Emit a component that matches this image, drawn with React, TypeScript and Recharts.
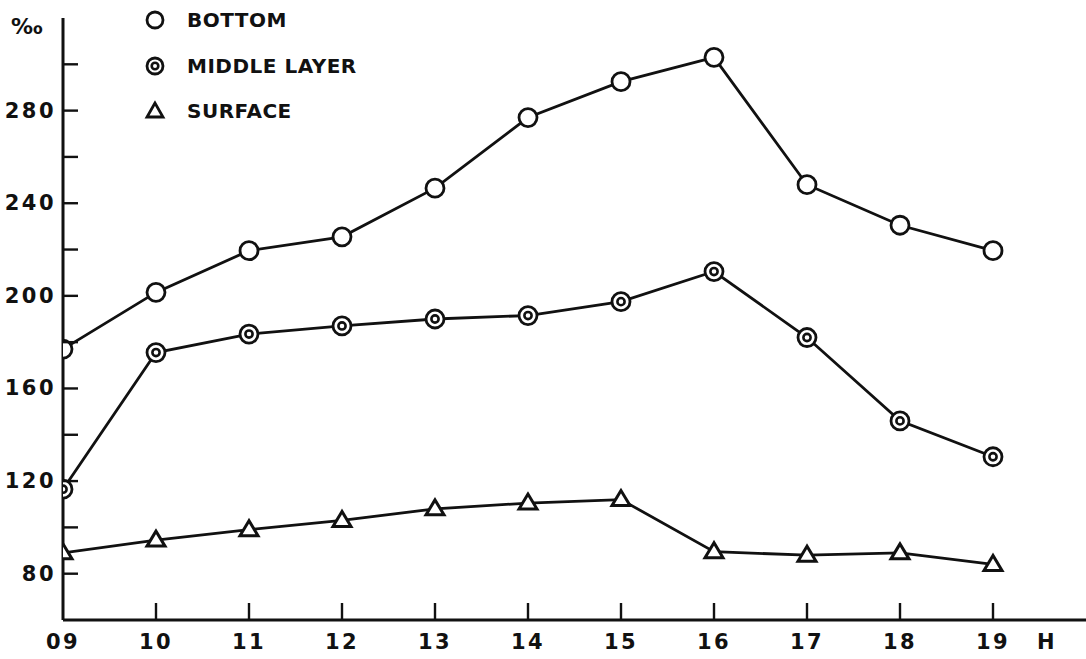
import React from "react";
import { LineChart, Line, XAxis, YAxis } from "recharts";

const hours = [9, 10, 11, 12, 13, 14, 15, 16, 17, 18, 19];
const hourLabels = ["09", "10", "11", "12", "13", "14", "15", "16", "17", "18", "19"];
const bottom = [177, 201.5, 219.5, 225.5, 246.5, 277, 292.5, 303, 248, 230.5, 219.5];
const middle = [116.5, 175.5, 183.5, 187, 190, 191.5, 197.5, 210.5, 182, 146, 130.5];
const surface = [89, 94.5, 99, 103, 108, 110.5, 112, 89.5, 88, 89, 84];
const yTicks = [80, 100, 120, 140, 160, 180, 200, 220, 240, 260, 280, 300];
const yLabelTicks = [80, 120, 160, 200, 240, 280];
const unitX = 19.58;
const xTicks = [...hours, unitX];
const seriesNames = ["BOTTOM", "MIDDLE LAYER", "SURFACE"];

const data = hours.map((h, i) => ({
  hour: h,
  bottom: bottom[i],
  middle: middle[i],
  surface: surface[i],
}));

const FONT = "'DejaVu Sans', sans-serif";
const INK = "#111";

const OpenCircle = (props: any) => {
  const { cx, cy, key } = props;
  if (cx == null || cy == null) return null;
  return <circle key={key} cx={cx} cy={cy} r={9} fill="#fff" stroke={INK} strokeWidth={2.8} />;
};

const DotCircle = (props: any) => {
  const { cx, cy, key } = props;
  if (cx == null || cy == null) return null;
  return (
    <g key={key}>
      <circle cx={cx} cy={cy} r={9} fill="#fff" stroke={INK} strokeWidth={2.8} />
      <circle cx={cx} cy={cy} r={3.6} fill="#fff" stroke={INK} strokeWidth={2.6} />
    </g>
  );
};

const Triangle = (props: any) => {
  const { cx, cy, key } = props;
  if (cx == null || cy == null) return null;
  return (
    <polygon
      key={key}
      points={`${cx},${cy - 9} ${cx - 9},${cy + 6} ${cx + 9},${cy + 6}`}
      fill="#fff"
      stroke={INK}
      strokeWidth={3}
      strokeLinejoin="miter"
    />
  );
};

const YTick = (props: any) => {
  const { x, y, payload } = props;
  const v = payload.value;
  return (
    <g>
      <line x1={x} x2={x + 15} y1={y} y2={y} stroke={INK} strokeWidth={2.4} />
      {yLabelTicks.includes(v) && (
        <text
          x={x - 7}
          y={y}
          textAnchor="end"
          dominantBaseline="central"
          fontFamily={FONT}
          fontWeight="bold"
          fontSize={21}
          letterSpacing={2.5}
          fill={INK}
        >
          {v}
        </text>
      )}
    </g>
  );
};

const XTick = (props: any) => {
  const { x, y, payload } = props;
  const v = payload.value;
  const idx = hours.indexOf(v);
  const label = idx >= 0 ? hourLabels[idx] : "H";
  const showLine = idx > 0;
  return (
    <g>
      {showLine && <line x1={x} x2={x} y1={y} y2={y - 17} stroke={INK} strokeWidth={2.4} />}
      <text
        x={x}
        y={y + 22}
        textAnchor="middle"
        dominantBaseline="central"
        fontFamily={FONT}
        fontWeight="bold"
        fontSize={21}
        letterSpacing={2.5}
        fill={INK}
      >
        {label}
      </text>
    </g>
  );
};

const legendMarkers = [
  (cx: number, cy: number) => <circle cx={cx} cy={cy} r={8} fill="#fff" stroke={INK} strokeWidth={2.8} />,
  (cx: number, cy: number) => (
    <g>
      <circle cx={cx} cy={cy} r={8} fill="#fff" stroke={INK} strokeWidth={2.8} />
      <circle cx={cx} cy={cy} r={3.3} fill="#fff" stroke={INK} strokeWidth={2.6} />
    </g>
  ),
  (cx: number, cy: number) => (
    <polygon points={`${cx},${cy - 8} ${cx - 8},${cy + 6} ${cx + 8},${cy + 6}`} fill="#fff" stroke={INK} strokeWidth={2.8} />
  ),
];
const legendY = [20, 66, 111];

export default function App() {
  return (
    <div style={{ position: "absolute", left: 0, top: 0, width: 1086, height: 659, background: "#fff" }}>
      <LineChart
        width={1086}
        height={659}
        data={data}
        margin={{ top: 18, right: 0, bottom: 0, left: 0 }}
      >
        <XAxis
          dataKey="hour"
          type="number"
          domain={[9, 20]}
          ticks={xTicks}
          interval={0}
          allowDataOverflow
          height={39}
          tickSize={0}
          tickMargin={0}
          tickLine={false}
          axisLine={{ stroke: INK, strokeWidth: 3 }}
          tick={<XTick />}
        />
        <YAxis
          type="number"
          domain={[60, 320]}
          ticks={yTicks}
          interval={0}
          allowDataOverflow
          width={63}
          tickSize={0}
          tickMargin={0}
          tickLine={false}
          axisLine={{ stroke: INK, strokeWidth: 3 }}
          tick={<YTick />}
        />
        <Line dataKey="bottom" stroke={INK} strokeWidth={2.8} dot={OpenCircle} activeDot={false} isAnimationActive={false} />
        <Line dataKey="middle" stroke={INK} strokeWidth={2.8} dot={DotCircle} activeDot={false} isAnimationActive={false} />
        <Line dataKey="surface" stroke={INK} strokeWidth={2.8} dot={Triangle} activeDot={false} isAnimationActive={false} />
      </LineChart>
      <svg width={400} height={130} style={{ position: "absolute", left: 0, top: 0 }}>
        <text x={11} y={26} dominantBaseline="central" fontFamily={FONT} fontWeight="bold" fontSize={22} fill={INK}>
          ‰
        </text>
        {seriesNames.map((name, i) => (
          <g key={name}>
            {legendMarkers[i](155, legendY[i])}
            <text
              x={187}
              y={legendY[i]}
              dominantBaseline="central"
              fontFamily={FONT}
              fontWeight="bold"
              fontSize={20}
              letterSpacing={0.5}
              fill={INK}
            >
              {name}
            </text>
          </g>
        ))}
      </svg>
    </div>
  );
}
